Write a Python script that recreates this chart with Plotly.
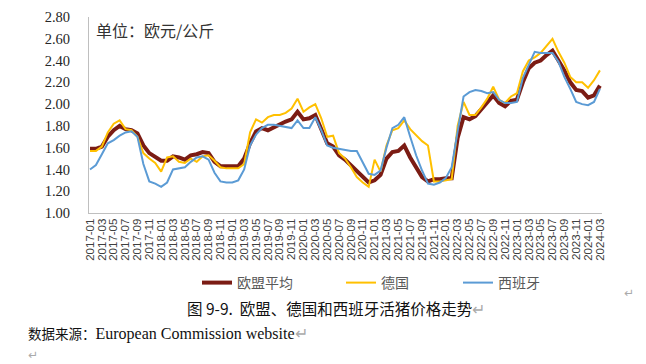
import plotly.graph_objects as go

months = [f"{y}-{m:02d}" for y in range(2017, 2025) for m in range(1, 13)][:87]
tick_labels = months[::2]

eu_avg = [1.59, 1.59, 1.61, 1.70, 1.76, 1.80, 1.77, 1.76, 1.73, 1.62,
          1.55, 1.52, 1.48, 1.48, 1.52, 1.51, 1.49, 1.53, 1.54, 1.56,
          1.55, 1.47, 1.43, 1.43, 1.43, 1.43, 1.50, 1.64, 1.75, 1.78,
          1.76, 1.79, 1.81, 1.84, 1.86, 1.93, 1.86, 1.87, 1.90, 1.76,
          1.64, 1.61, 1.53, 1.49, 1.44, 1.39, 1.33, 1.28, 1.30, 1.35,
          1.50, 1.56, 1.57, 1.62, 1.51, 1.42, 1.33, 1.29, 1.31, 1.31,
          1.32, 1.32, 1.69, 1.88, 1.86, 1.89, 1.95, 2.02, 2.08, 2.01,
          1.98, 2.03, 2.04, 2.20, 2.33, 2.38, 2.40, 2.45, 2.49, 2.40,
          2.31, 2.20, 2.13, 2.12, 2.06, 2.08, 2.17]

germany = [1.57, 1.57, 1.61, 1.74, 1.82, 1.85, 1.77, 1.76, 1.70, 1.55,
           1.50, 1.46, 1.38, 1.51, 1.52, 1.47, 1.46, 1.50, 1.47, 1.52,
           1.53, 1.48, 1.42, 1.41, 1.41, 1.41, 1.45, 1.74, 1.86, 1.83,
           1.88, 1.90, 1.90, 1.92, 1.96, 2.05, 1.93, 1.97, 2.00, 1.87,
           1.70, 1.71, 1.55, 1.50, 1.42, 1.33, 1.28, 1.24, 1.49, 1.38,
           1.62, 1.76, 1.78, 1.85, 1.77, 1.71, 1.66, 1.62, 1.29, 1.29,
           1.30, 1.31, 1.80, 2.02, 1.90, 1.90, 1.97, 2.05, 2.16, 2.04,
           2.01, 2.07, 2.10, 2.30, 2.40, 2.43, 2.47, 2.53, 2.60, 2.48,
           2.38, 2.25, 2.20, 2.20, 2.15, 2.22, 2.31]

spain = [1.40, 1.44, 1.54, 1.64, 1.67, 1.71, 1.74, 1.75, 1.70, 1.45,
         1.29, 1.27, 1.24, 1.28, 1.40, 1.41, 1.42, 1.47, 1.51, 1.52,
         1.49, 1.37, 1.29, 1.28, 1.28, 1.30, 1.40, 1.62, 1.72, 1.78,
         1.81, 1.81, 1.80, 1.79, 1.78, 1.85, 1.78, 1.78, 1.88, 1.76,
         1.62, 1.60, 1.59, 1.58, 1.57, 1.57, 1.46, 1.36, 1.35, 1.39,
         1.60, 1.78, 1.81, 1.88, 1.70, 1.53, 1.39, 1.27, 1.26, 1.28,
         1.32, 1.42, 1.75, 2.07, 2.11, 2.13, 2.12, 2.10, 2.11, 2.04,
         2.01, 2.01, 2.02, 2.24, 2.36, 2.48, 2.47, 2.47, 2.47, 2.39,
         2.25, 2.14, 2.02, 2.00, 1.99, 2.02, 2.14]

y_ticks = [1.00, 1.20, 1.40, 1.60, 1.80, 2.00, 2.20, 2.40, 2.60, 2.80]

W, H = 646, 364
L, R, T, B = 89, 44, 17, 151
pw, ph = W - L - R, H - T - B


def px(x):
    return (x - L) / pw


def py(y):
    return (H - B - y) / ph


fig = go.Figure()
fig.add_trace(go.Scatter(x=months, y=eu_avg, mode="lines", name="欧盟平均",
                         line=dict(color="#7B1C14", width=4), legend="legend"))
fig.add_trace(go.Scatter(x=months, y=germany, mode="lines", name="德国",
                         line=dict(color="#FFC000", width=2), legend="legend2"))
fig.add_trace(go.Scatter(x=months, y=spain, mode="lines", name="西班牙",
                         line=dict(color="#5B9BD5", width=2), legend="legend3"))

legend_font = dict(family="Noto Sans CJK SC", size=14, color="#595959")
common_leg = dict(orientation="h", xref="paper", yref="paper",
                  yanchor="middle", xanchor="left", font=legend_font,
                  bgcolor="rgba(0,0,0,0)", itemwidth=30)

fig.update_layout(
    width=W, height=H,
    margin=dict(l=L, r=R, t=T, b=B, autoexpand=False),
    paper_bgcolor="white", plot_bgcolor="white",
    showlegend=True,
    legend=dict(x=px(197), y=py(283), **common_leg),
    legend2=dict(x=px(341), y=py(283), **common_leg),
    legend3=dict(x=px(458), y=py(283), **common_leg),
    xaxis=dict(type="category", range=[-0.17, 86.35], showgrid=False,
               showline=True, linecolor="#BFBFBF", linewidth=1,
               tickmode="array", tickvals=tick_labels, ticktext=tick_labels,
               tickangle=-90, ticks="", automargin=False,
               tickfont=dict(family="Liberation Sans", size=11.5, color="#404040"),
               zeroline=False),
    yaxis=dict(range=[1.0, 2.8], showgrid=False, showline=True,
               linecolor="#BFBFBF", linewidth=1, tickmode="array",
               tickvals=y_ticks, ticktext=[f"{v:.2f}" for v in y_ticks],
               ticks="", ticklabelstandoff=15, automargin=False,
               tickfont=dict(family="Liberation Serif", size=14.5, color="#262626"),
               zeroline=False),
)

fig.add_annotation(x=px(94), y=py(30), xref="paper", yref="paper",
                   text="单位：欧元/公斤", showarrow=False, xanchor="left",
                   yanchor="middle",
                   font=dict(family="Noto Sans CJK SC", size=16, color="#333333"))

fig.add_annotation(x=px(185), y=py(308), xref="paper", yref="paper",
                   text="图 9-9.  欧盟、德国和西班牙活猪价格走势<span style='color:#aaaaaa'>↵</span>",
                   showarrow=False, xanchor="left", yanchor="middle",
                   font=dict(family="Noto Sans CJK SC", size=15.5, color="#111111"))

fig.add_annotation(x=px(26), y=py(333), xref="paper", yref="paper",
                   text="<span style='font-family:Noto Sans CJK SC;font-size:13.5px'>数据来源：</span>European Commission website<span style='color:#aaaaaa'>↵</span>",
                   showarrow=False, xanchor="left", yanchor="middle",
                   font=dict(family="Liberation Serif", size=16, color="#111111"))

fig.add_annotation(x=px(622), y=py(293), xref="paper", yref="paper",
                   text="↵", showarrow=False, xanchor="left", yanchor="middle",
                   font=dict(family="DejaVu Sans", size=12, color="#aaaaaa"))

fig.add_annotation(x=px(26), y=py(355), xref="paper", yref="paper",
                   text="↵", showarrow=False, xanchor="left", yanchor="middle",
                   font=dict(family="DejaVu Sans", size=12, color="#aaaaaa"))

fig.write_html("out.html", config={"displayModeBar": False},
               post_script="document.body.style.margin='0';document.body.style.overflow='hidden';")
